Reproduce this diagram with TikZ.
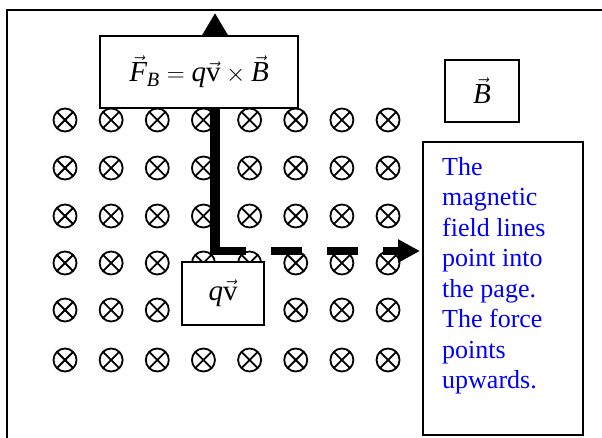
\documentclass[tikz,border=0pt]{standalone}
\usepackage{amsmath}
\usepackage{fontspec}
\setmainfont{Liberation Serif}
\usetikzlibrary{arrows.meta,positioning}

\begin{document}
\begin{tikzpicture}[
    x=1pt, y=-1pt,
    box/.style={
        rectangle,
        draw=black,
        line width=2pt,
        fill=white,
        inner sep=0pt,
        font=\fontsize{29}{32}\selectfont
    },
    xfield/.style={
        circle,
        draw=black,
        line width=1.8pt,
        minimum size=23pt,
        inner sep=0pt,
        path picture={
            \draw[line width=1.8pt]
                (path picture bounding box.north west) -- (path picture bounding box.south east)
                (path picture bounding box.north east) -- (path picture bounding box.south west);
        }
    },
    force/.style={-{Triangle[length=22pt,width=24pt]}, line width=10pt},
    velocity/.style={-{Triangle[length=22pt,width=22pt]}, line width=8pt,
        dash pattern=on 31pt off 25pt},
    note/.style={font=\fontsize{26}{30.5}\selectfont, text=blue, align=left, inner sep=0pt}
]

\clip (0,0) rectangle (602,438);

% =========================================
% Outer frame
% =========================================
\draw[line width=2pt] (7,10.5) rectangle (640,470);

% =========================================
% Field into the page
% =========================================
\foreach \y [count=\r] in {120,168,216,263,310,360} {
    \foreach \c in {1,...,8} {
        \node[xfield] (b-\r-\c) at ({65+46.15*(\c-1)}, \y) {};
    }
}

% =========================================
% Force (up) and velocity (right)
% =========================================
\coordinate (corner) at (215,251);
\coordinate (ftip) at (215,13);
\coordinate (vtip) at (420,251);

\draw[force] ([yshift=-4pt]corner) -- (ftip);
\draw[velocity] (corner) -- (vtip);

% =========================================
% Labels
% =========================================
\node[box, minimum width=198pt, minimum height=72pt] (FB) at (199,72) {
    $\vec{\textit{F}}_{\textit{B}} = \textit{q}\vec{\text{v}}\times\vec{\textit{B}}$
};

\node[box, minimum width=82pt, minimum height=63pt] (qv) at (223,293.5) {
    $\textit{q}\vec{\text{v}}$
};

\node[box, minimum width=74pt, minimum height=62pt] (Bfield) at (482,91) {
    $\vec{\textit{B}}$
};

% Explanation box
\node[box, minimum width=160pt, minimum height=293pt] (notebox) at (503,288.5) {};
\node[note, below right=16pt and 20pt of notebox.north west] (note) {
    The\\
    magnetic\\
    field lines\\
    point into\\
    the page.\\
    The force\\
    points\\
    upwards.
};

\end{tikzpicture}
\end{document}
